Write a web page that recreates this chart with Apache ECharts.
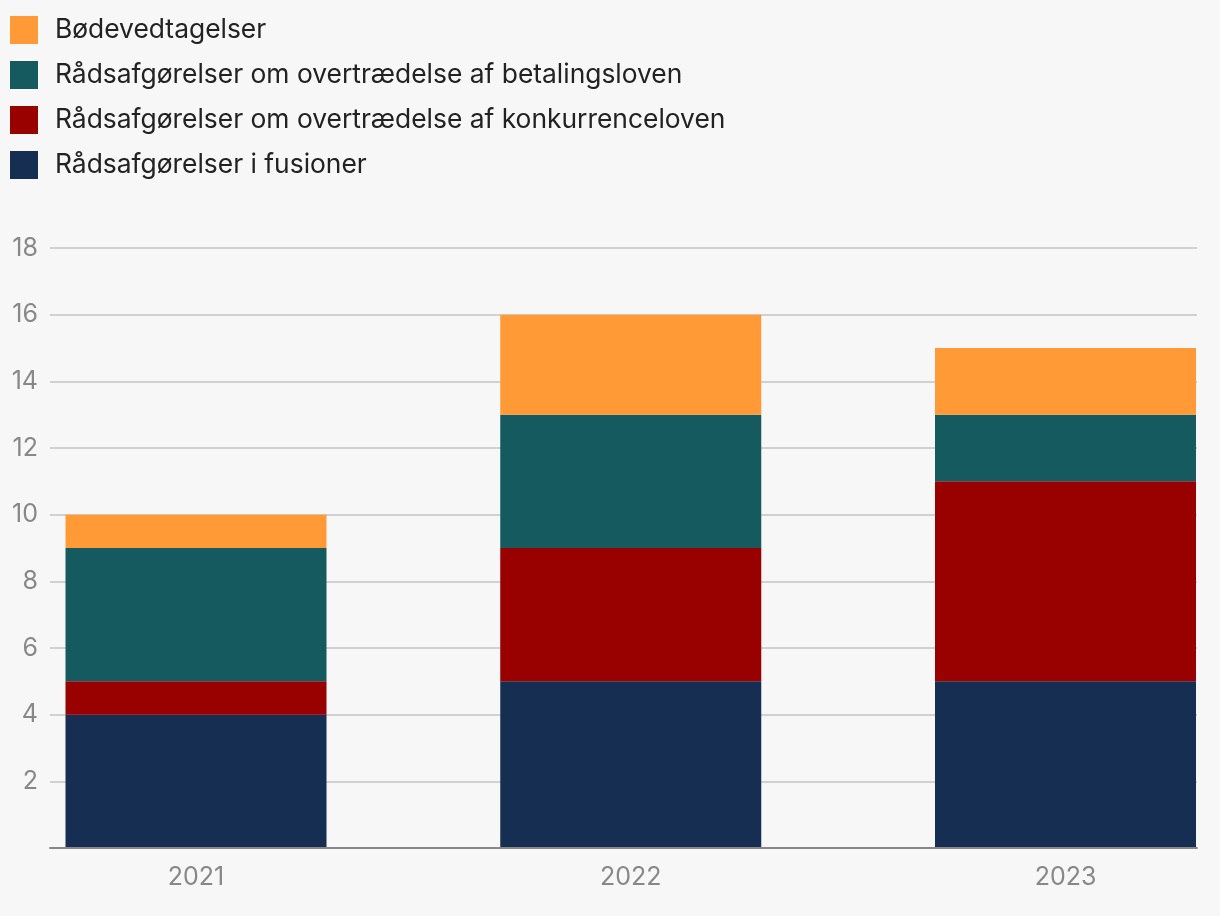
<!DOCTYPE html>
<html><head><meta charset="utf-8">
<script src="https://cdn.jsdelivr.net/npm/echarts@6/dist/echarts.min.js"></script>
<style>html,body{margin:0;padding:0;background:#f7f7f7}#c{width:1220px;height:916px}</style>
</head><body><div id="c"></div>
<script>
const years = ['2021', '2022', '2023'];
const fusioner = [4, 5, 5];
const konkurrenceloven = [1, 4, 6];
const betalingsloven = [4, 4, 2];
const boedevedtagelser = [1, 3, 2];
const seriesNames = ['Rådsafgørelser i fusioner', 'Rådsafgørelser om overtrædelse af konkurrenceloven', 'Rådsafgørelser om overtrædelse af betalingsloven', 'Bødevedtagelser'];
const colors = ['#162e52', '#990000', '#155a5e', '#ff9a36'];
const values = [fusioner, konkurrenceloven, betalingsloven, boedevedtagelser];
const font = '"Inter", "Noto Sans", sans-serif';

const chart = echarts.init(document.getElementById('c'));
chart.setOption({
  backgroundColor: '#f7f7f7',
  animation: false,
  graphic: seriesNames.slice().reverse().map((n, i) => ({
    type: 'group', left: 10, top: 16 + i * 45,
    children: [
      {type: 'rect', shape: {x: 0, y: 0, width: 28, height: 28}, style: {fill: colors[3 - i]}},
      {type: 'text', x: 45, y: 14, style: {text: n, fill: '#222', font: '26.4px ' + font, textVerticalAlign: 'middle'}}
    ]
  })),
  grid: [
    {left: 50, right: 23, top: 248, bottom: 68},
    {left: 196, right: 154.5, top: 248, bottom: 68}
  ],
  xAxis: [
    {gridIndex: 0, type: 'category', data: years, axisLine: {lineStyle: {color: '#888', width: 2}}, axisTick: {show: false}, axisLabel: {show: false}, z: 10},
    {gridIndex: 1, type: 'category', data: years, boundaryGap: false, axisLine: {show: false}, axisTick: {show: false},
      splitLine: {show: false},
      axisLabel: {color: '#888', fontSize: 25, fontFamily: font, margin: 17}}
  ],
  yAxis: [
    {gridIndex: 0, type: 'value', min: 0, max: 18, interval: 2, axisLine: {show: false}, axisTick: {show: false},
      axisLabel: {color: '#888', fontSize: 25, fontFamily: font, margin: 12, formatter: v => v === 0 ? '' : v},
      splitLine: {lineStyle: {color: '#c4c4c4', width: 1.5}}},
    {gridIndex: 1, type: 'value', min: 0, max: 18, interval: 2, show: false, splitLine: {show: false}}
  ],
  series: values.map((d, i) => ({
    type: 'bar', name: seriesNames[i], xAxisIndex: 1, yAxisIndex: 1, stack: 'total', data: d,
    barWidth: 261, clip: false, itemStyle: {color: colors[i]}, z: 5
  }))
});
</script></body></html>
